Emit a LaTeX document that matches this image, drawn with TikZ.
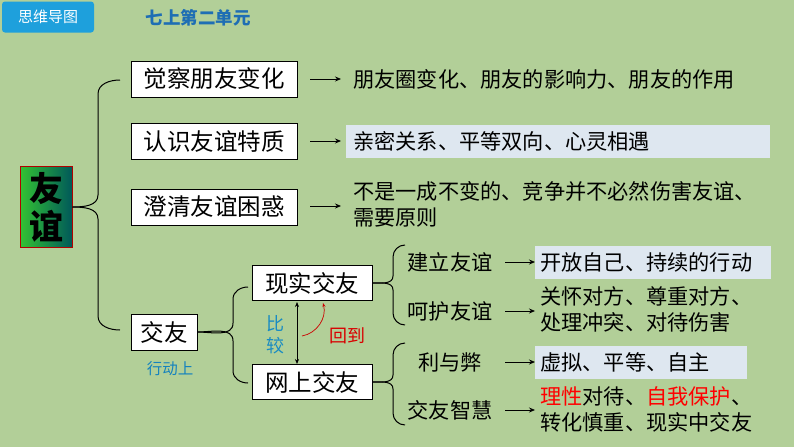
\documentclass[tikz,border=0pt]{standalone}
\usepackage{fontspec}
\setmainfont{Noto Sans CJK SC}
\usetikzlibrary{arrows.meta}
\definecolor{bg}{RGB}{178,207,152}
\definecolor{hl}{RGB}{222,231,240}
\definecolor{tblue}{RGB}{30,110,180}
\definecolor{badge}{RGB}{30,160,220}
\definecolor{acyan}{RGB}{20,130,190}
\tikzset{
 box/.style={draw=black,fill=white,line width=0.9pt,inner sep=0pt,minimum height=36pt,font=\fontsize{23.5}{23.5}\selectfont},
 txt/.style={font=\fontsize{21.2}{26}\selectfont,inner sep=0pt,align=left},
 hlbox/.style={fill=hl,inner sep=0pt,anchor=west,minimum height=33pt},
 arr/.style={-{Stealth[length=6pt,width=5pt]},line width=0.8pt},
 br/.style={line width=1pt}
}
\begin{document}
\begin{tikzpicture}[x=1pt,y=-1pt]
\fill[bg] (0,0) rectangle (794,447);
\useasboundingbox (0,0) rectangle (794,447);
% badge
\node[fill=badge,rounded corners=3pt,minimum width=92pt,minimum height=31pt,text=white,font=\fontsize{15}{15}\selectfont,inner sep=0pt] (badge) at (48,17) {思维导图};
\node[text=tblue,font=\bfseries\fontsize{17.5}{17.5}\selectfont] (title) at (198,18) {七上第二单元};
% 友谊
\node[draw=red!70!black,line width=1pt,left color=green!70!black!80,right color=teal!70!black,shading angle=90,minimum width=52pt,minimum height=81pt,inner sep=0pt,align=center,font=\bfseries\fontsize{34}{38}\selectfont] (yy) at (46,207) {友\\谊};
% level 1
\node[box,minimum width=166pt] (a1) at (214,79) {觉察朋友变化};
\node[box,minimum width=166pt] (a2) at (214,141) {认识友谊特质};
\node[box,minimum width=166pt] (a3) at (214,207) {澄清友谊困惑};
\node[box,minimum width=66pt] (a4) at (164,332) {交友};
\node[text=acyan,font=\fontsize{15.5}{15.5}\selectfont] (xd) at (170,369) {行动上};
% brace 1
\coordinate (h1) at (120,80); \coordinate (h2) at (120,330);
\draw[br] (yy.east) to[out=0,in=-90] (98,195) -- (98,94) to[out=90,in=180] (h1);
\draw[br] (yy.east) to[out=0,in=90] (98,219) -- (98,316) to[out=-90,in=180] (h2);
% arrows & texts level 1
\coordinate (e1) at (353,79); \coordinate (e2) at (346,141); \coordinate (e3) at (353,204);
\draw[arr] (310,79) -- (341,79);
\draw[arr] (310,141) -- (341,141);
\draw[arr] (310,206) -- (341,206);
\node[txt,anchor=west] (t1) at (e1) {朋友圈变化、朋友的影响力、朋友的作用};
\node[hlbox,minimum width=424pt] (t2) at (e2) {};
\node[txt,anchor=west] at (353,141) {亲密关系、平等双向、心灵相遇};
\node[txt,anchor=west] (t3) at (e3) {不是一成不变的、竞争并不必然伤害友谊、\\需要原则};
% level 2
\node[box,minimum width=120pt,minimum height=35pt] (b1) at (312,283) {现实交友};
\node[box,minimum width=120pt,minimum height=35pt] (b2) at (312,382) {网上交友};
\coordinate (g1) at (248,287); \coordinate (g2) at (248,383);
\draw[br] (a4.east) to[out=0,in=-90] (233,323) -- (233,299) to[out=90,in=180] (g1);
\draw[br] (a4.east) to[out=0,in=90] (233,341) -- (233,371) to[out=-90,in=180] (g2);
\draw[{Stealth[length=5pt,width=4pt]}-{Stealth[length=5pt,width=4pt]},line width=0.7pt] (297,302) -- (297,364);
\node[text=tblue!80!cyan,font=\fontsize{18}{22}\selectfont,align=center,inner sep=0pt] (bj) at (275,335) {比\\较};
\coordinate (c1) at (302,336); \coordinate (c2) at (323,303);
\draw[-{Stealth[length=4pt,width=3pt]},red!80!black,line width=0.7pt] (c1) to[out=10,in=-75] (c2);
\node[text=red!85!black,font=\fontsize{18}{18}\selectfont] (hd) at (347,336) {回到};
% brace 3
\coordinate (k1) at (405,245); \coordinate (k2) at (405,325);
\draw[br] (b1.east) to[out=0,in=-90] (393,276) -- (393,257) to[out=90,in=180] (k1);
\draw[br] (b1.east) to[out=0,in=90] (393,290) -- (393,313) to[out=-90,in=180] (k2);
\coordinate (k3) at (405,343); \coordinate (k4) at (405,425);
\draw[br] (b2.east) to[out=0,in=-90] (393,375) -- (393,355) to[out=90,in=180] (k3);
\draw[br] (b2.east) to[out=0,in=90] (393,389) -- (393,413) to[out=-90,in=180] (k4);
\node[txt] (d1) at (450,262) {建立友谊};
\node[txt] (d2) at (450,311) {呵护友谊};
\node[txt] (d3) at (450,362) {利与弊};
\node[txt] (d4) at (450,410) {交友智慧};
\draw[arr] (505,262) -- (535,262);
\draw[arr] (505,311) -- (535,311);
\draw[arr] (505,362) -- (535,362);
\draw[arr] (505,410) -- (535,410);
\node[hlbox,minimum width=236pt] (f1) at (535,262) {};
\node[txt,anchor=west] at (540,262) {开放自己、持续的行动};
\node[txt,anchor=west] (f2) at (540,309) {关怀对方、尊重对方、\\处理冲突、对待伤害};
\node[hlbox,minimum width=212pt] (f3) at (535,362) {};
\node[txt,anchor=west] at (540,362) {虚拟、平等、自主};
\node[txt,anchor=west] (f4) at (540,409) {\textcolor{red}{理性}对待、\textcolor{red}{自我保护}、\\转化慎重、现实中交友};
\end{tikzpicture}
\end{document}
